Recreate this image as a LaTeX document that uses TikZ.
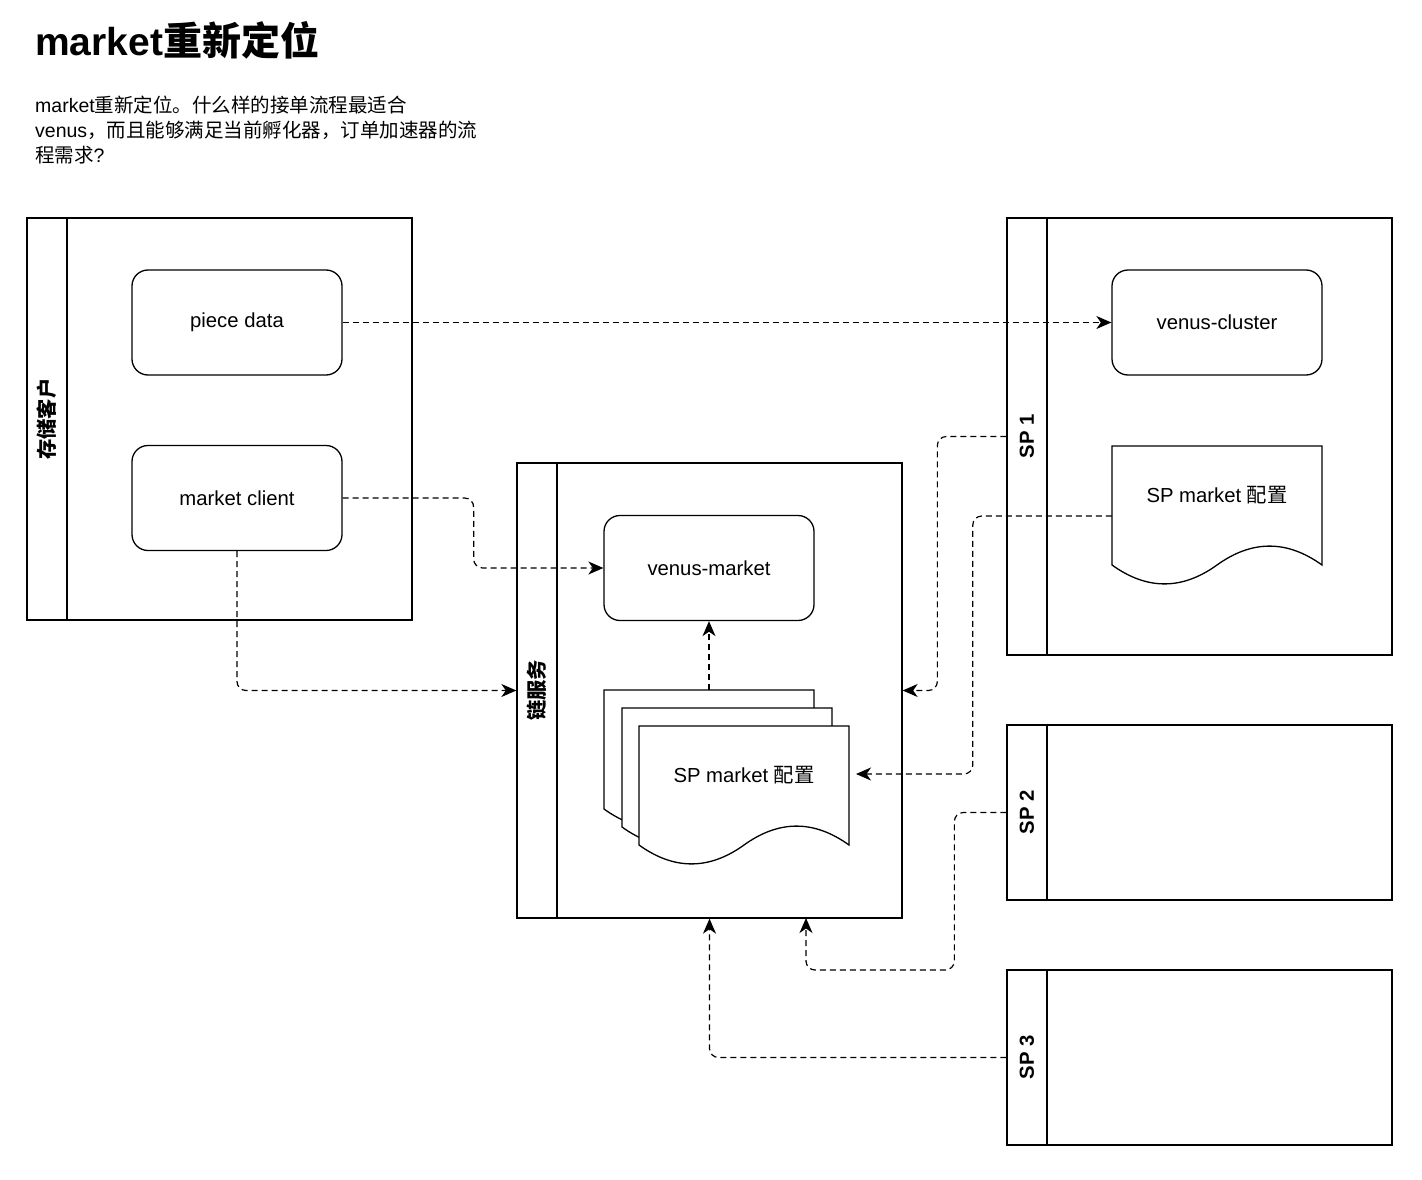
\documentclass[tikz,border=0pt]{standalone}
\usepackage{fontspec}
\setmainfont{Liberation Sans}
\newfontfamily\cjk{Noto Sans CJK SC}
\usetikzlibrary{arrows.meta}
\newcommand\nodefs{\fontsize{20.3}{24}\selectfont}
\tikzset{
  pool/.style={draw, line width=1.3pt, fill=white, inner sep=0pt, minimum width=385pt},
  lanelbl/.style={rotate=90, font=\nodefs\bfseries, inner sep=0pt},
  proc/.style={draw, line width=1.3pt, rounded corners=16pt, fill=white, minimum width=210pt, minimum height=105pt, inner sep=0pt, font=\nodefs},
  docbox/.style={inner sep=0pt, minimum width=210pt, minimum height=140pt},
  doctext/.style={inner sep=0pt, font=\nodefs},
  conn/.style={line width=1.2pt, dash pattern=on 6pt off 4pt, rounded corners=9pt, -{Stealth[length=15pt,width=13pt,inset=4.5pt]}},
}
% document shape: #1 name, #2 x, #3 y (top left), #4 label
\newcommand\mydoc[4]{%
  \begin{scope}[shift={(#2,#3)}]
    \draw[line width=1.3pt, fill=white] (0,0) -- (210,0) -- (210,119)
      .. controls (175,93.8) and (140,93.8) .. (105,119)
      .. controls (70,144.2) and (35,144.2) .. (0,119) -- cycle;
    \node[docbox] (#1) at (105,70) {};
    \node[doctext] (#1txt) at (105,49) {#4};
  \end{scope}}
\begin{document}
\begin{tikzpicture}[x=1pt,y=-1pt]
\useasboundingbox (0,0) rectangle (1422,1180);
\fill[white] (0,0) rectangle (1422,1180);

% title and description
\node[anchor=base west, inner sep=0pt, font=\fontsize{39}{44}\selectfont\bfseries] (title) at (35,56) {market{\cjk 重新定位}};
\node[anchor=base west, inner sep=0pt, font=\fontsize{19.5}{25}\selectfont] (desc1) at (35,113)
  {market{\cjk 重新定位。什么样的接单流程最适合}};
\node[anchor=base west, inner sep=0pt, font=\fontsize{19.5}{25}\selectfont] (desc2) at (35,138)
  {venus{\cjk ，而且能够满足当前孵化器，订单加速器的流}};
\node[anchor=base west, inner sep=0pt, font=\fontsize{19.5}{25}\selectfont] (desc3) at (35,163)
  {{\cjk 程需求}?};

% pool 1
\node[pool, minimum height=402pt] (p1) at (219.5,419) {};
\draw[line width=1.3pt] (67,218) -- (67,620);
\node[lanelbl] (p1l) at (47,419) {\cjk 存储客户};
\node[proc] (pd) at (237,322.5) {piece data};
\node[proc] (mc) at (237,498) {market client};

% pool 2
\node[pool, minimum height=455pt] (p2) at (709.5,690.5) {};
\draw[line width=1.3pt] (557,463) -- (557,918);
\node[lanelbl] (p2l) at (537,690.5) {\cjk 链服务};
\node[proc] (vm) at (709,568) {venus-market};
\mydoc{back}{604}{690}{}
\mydoc{mid}{622}{708}{}
\mydoc{front}{639}{726}{SP market {\cjk 配置}}

% SP 1
\node[pool, minimum height=437pt] (sp1) at (1199.5,436.5) {};
\draw[line width=1.3pt] (1047,218) -- (1047,655);
\node[lanelbl] (sp1l) at (1027,436.5) {SP 1};
\node[proc] (vc) at (1217,322.5) {venus-cluster};
\mydoc{spdoc}{1112}{446}{SP market {\cjk 配置}}

% SP 2
\node[pool, minimum height=175pt] (sp2) at (1199.5,812.5) {};
\draw[line width=1.3pt] (1047,725) -- (1047,900);
\node[lanelbl] (sp2l) at (1027,812.5) {SP 2};

% SP 3
\node[pool, minimum height=175pt] (sp3) at (1199.5,1057.5) {};
\draw[line width=1.3pt] (1047,970) -- (1047,1145);
\node[lanelbl] (sp3l) at (1027,1057.5) {SP 3};

% connectors
\coordinate (frontin) at (856,774);
\coordinate (p2b) at (806,918);
\draw[conn] (pd.east) -- (vc.west);
\draw[conn] (mc.east) -- ++(131,0) |- (vm.west);
\draw[conn] (mc.south) |- (p2.west);
\draw[conn] (sp1.west) -- ++(-69,0) |- (p2.east);
\draw[conn] (spdoc.west) -- ++(-139,0) |- (frontin);
\draw[conn] (back.north) -- (vm.south);
\draw[conn] (sp2.west) -- ++(-52,0) |- ([yshift=-52pt]p2b) -- (p2b);
\draw[conn] (sp3.west) -| (p2.south);
\end{tikzpicture}
\end{document}
